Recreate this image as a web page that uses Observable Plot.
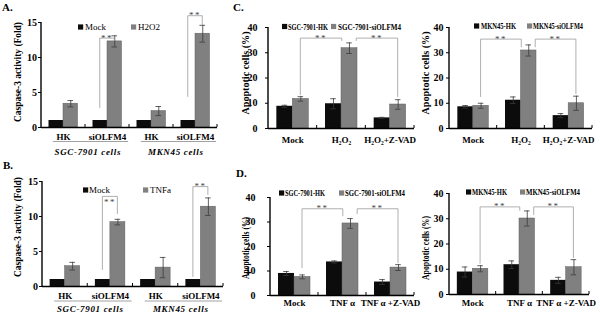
<!DOCTYPE html>
<html><head><meta charset="utf-8">
<script src="https://cdn.jsdelivr.net/npm/d3@7"></script>
<script src="https://cdn.jsdelivr.net/npm/@observablehq/plot@0.6"></script>
<style>
html,body{margin:0;padding:0;background:#fff;}
#root{position:relative;width:600px;height:313px;overflow:hidden;background:#fff;font-family:'Liberation Serif','Times New Roman',serif;}
#root svg{position:absolute;overflow:visible;}
.plab{position:absolute;font-weight:bold;font-size:11px;line-height:11px;}
</style></head><body><div id="root"></div>
<script>
// ---------- DATA ----------
// Panels A and B: caspase-3 activity (fold)
const groupsAB = ["SGC-HK", "SGC-siOLFM4", "MKN-HK", "MKN-siOLFM4"];
const tickLabelsAB = ["HK", "siOLFM4", "HK", "siOLFM4"];
const cellLabels = ["SGC-7901 cells", "MKN45 cells"];
const seriesA = ["Mock", "H2O2"];
const mockA = [1, 1, 1, 1];
const mockErrA = [0, 0, 0, 0];
const h2o2A = [3.4, 12.3, 2.35, 13.4];
const h2o2ErrA = [0.45, 0.8, 0.65, 1.2];
const seriesB = ["Mock", "TNFa"];
const mockB = [1, 1, 1, 1];
const mockErrB = [0, 0, 0, 0];
const tnfB = [2.9, 9.2, 2.7, 11.4];
const tnfErrB = [0.55, 0.4, 1.45, 1.25];

// Panels C and D: apoptotic cells (%)
const groupsC = ["Mock", "H₂O₂", "H₂O₂+Z-VAD"];
const groupsD = ["Mock", "TNF α", "TNF α +Z-VAD"];
const seriesCL = ["SGC-7901-HK", "SGC-7901-siOLFM4"];
const seriesCR = ["MKN45-HK", "MKN45-siOLFM4"];
const hkCL = [8.8, 9.8, 4.2];
const hkErrCL = [0.4, 2.0, 0.2];
const siCL = [11.7, 31.8, 9.5];
const siErrCL = [0.9, 2.1, 1.9];
const hkCR = [8.6, 11.2, 5.1];
const hkErrCR = [0.5, 1.3, 0.8];
const siCR = [9.0, 30.9, 10.0];
const siErrCR = [1.0, 2.2, 2.8];
const hkDL = [9.0, 13.7, 5.5];
const hkErrDL = [0.8, 0.4, 1.0];
const siDL = [7.6, 29.4, 11.4];
const siErrDL = [0.8, 2.0, 1.2];
const hkDR = [8.9, 11.8, 5.6];
const hkErrDR = [2.0, 1.5, 1.2];
const siDR = [10.2, 30.1, 10.8];
const siErrDR = [1.2, 3.0, 3.0];

// significance brackets (group index, series index, values in data units)
const bracketsA = [
  {g1: 1, s1: 0, y1: 2.7, g2: 1, s2: 1, y2: 12.3, top: 12.7},
  {g1: 3, s1: 0, y1: 4.3, g2: 3, s2: 1, y2: 14.6, top: 15.9}
];
const bracketsB = [
  {g1: 1, s1: 0, y1: 2.3, g2: 1, s2: 1, y2: 10.3, top: 12.8, below: true},
  {g1: 3, s1: 0, y1: 1.3, g2: 3, s2: 1, y2: 13.0, top: 14.2}
];
const bracketsCL = [
  {g1: 0, s1: 1, y1: 13.0, g2: 1, s2: 1, o2: -0.45, y2: 34.5, top: 35.6},
  {g1: 1, s1: 1, o1: 0.45, y1: 34.5, g2: 2, s2: 1, y2: 12.3, top: 35.6}
];
const bracketsCR = [
  {g1: 0, s1: 1, y1: 12.3, g2: 1, s2: 1, o2: -0.45, y2: 32.0, top: 35.2},
  {g1: 1, s1: 1, o1: 0.45, y1: 32.0, g2: 2, s2: 1, y2: 13.5, top: 35.2}
];
const bracketsDL = [
  {g1: 0, s1: 1, y1: 11.0, g2: 1, s2: 1, o2: -0.45, y2: 32.2, top: 35.2},
  {g1: 1, s1: 1, o1: 0.45, y1: 33.0, g2: 2, s2: 1, y2: 13.0, top: 35.2}
];
const bracketsDR = [
  {g1: 0, s1: 1, y1: 12.0, g2: 1, s2: 1, o2: -0.45, y2: 33.0, top: 34.5},
  {g1: 1, s1: 1, o1: 0.45, y1: 31.3, g2: 2, s2: 1, y2: 14.3, top: 34.5}
];

// ---------- DRAWING ----------
const FONT = "'Liberation Serif','Times New Roman',serif";
const root = document.getElementById("root");

function panel(c) {
  const n = c.groups.length;
  const bw = (c.width - c.ml - c.mr) / n;
  const half = bw / 2, W = c.barW;
  const rows = c.groups.map((g, i) => ({g, a: c.s1[i], ea: c.e1[i], b: c.s2[i], eb: c.e2[i]}));
  const fmt = new Map(c.groups.map((g, i) => [g, c.ticks[i]]));
  const errA = rows.filter(d => d.ea > 0), errB = rows.filter(d => d.eb > 0);
  const capIn = half - 2.8;
  const errStyle = {stroke: "#3a3a3a", strokeWidth: 0.8};
  const svg = Plot.plot({
    width: c.width, height: c.height,
    marginLeft: c.ml, marginRight: c.mr, marginTop: c.mt, marginBottom: c.mb,
    style: {fontFamily: FONT, fontSize: "9px", fontWeight: "bold", background: "transparent", overflow: "visible", color: "#000"},
    x: {domain: c.groups, padding: 0, round: false, tickSize: 0, tickPadding: c.xPad, tickFormat: d => fmt.get(d), label: null},
    y: {domain: [0, c.ymax], ticks: c.yCount, tickSize: 3, tickPadding: c.yPad, label: null},
    marks: [
      Plot.barY(rows, {x: "g", y: "a", fill: "#0c0c0c", insetLeft: half - W, insetRight: half}),
      Plot.barY(rows, {x: "g", y: "b", fill: "#808080", stroke: "#5e5e5e", strokeWidth: 0.5, insetLeft: half, insetRight: half - W}),
      Plot.ruleX(errA, {x: "g", y1: d => d.a - d.ea, y2: d => d.a + d.ea, dx: -W / 2, ...errStyle}),
      Plot.tickY(errA, {x: "g", y: d => d.a + d.ea, dx: -W / 2, insetLeft: capIn, insetRight: capIn, ...errStyle}),
      Plot.tickY(errA, {x: "g", y: d => d.a - d.ea, dx: -W / 2, insetLeft: capIn, insetRight: capIn, ...errStyle}),
      Plot.ruleX(errB, {x: "g", y1: d => d.b - d.eb, y2: d => d.b + d.eb, dx: W / 2, ...errStyle}),
      Plot.tickY(errB, {x: "g", y: d => d.b + d.eb, dx: W / 2, insetLeft: capIn, insetRight: capIn, ...errStyle}),
      Plot.tickY(errB, {x: "g", y: d => d.b - d.eb, dx: W / 2, insetLeft: capIn, insetRight: capIn, ...errStyle}),
      Plot.ruleY([0], {stroke: "#000", strokeWidth: 1.4})
    ]
  });
  svg.style.left = c.left + "px";
  svg.style.top = c.top + "px";
  svg.style.width = c.width + "px";
  svg.style.height = c.height + "px";
  svg.style.maxWidth = "none";
  root.appendChild(svg);

  const sx = svg.scale("x"), sy = svg.scale("y");
  const S = d3.select(svg);
  S.selectAll('g[aria-label="y-axis tick label"]').style("font-size", "10px");
  const band = g => sx.apply(c.groups[g]);
  const bx = (g, s, o = 0) => band(g) + half + (s ? W / 2 : -W / 2) + o * W;

  // y axis line
  S.append("line").attr("x1", c.ml).attr("x2", c.ml)
    .attr("y1", sy.apply(0) + 0.7).attr("y2", sy.apply(c.ymax))
    .attr("stroke", "#000").attr("stroke-width", 1.4);
  // category boundary ticks
  for (let i = 0; i < n; i++) {
    const x = band(i) + sx.bandwidth;
    S.append("line").attr("x1", x).attr("x2", x)
      .attr("y1", sy.apply(0)).attr("y2", sy.apply(0) - 3)
      .attr("stroke", "#000").attr("stroke-width", 1);
  }
  // brackets
  for (const b of c.brackets) {
    const x1 = bx(b.g1, b.s1, b.o1 || 0), x2 = bx(b.g2, b.s2, b.o2 || 0);
    const yt = sy.apply(b.top);
    S.append("path")
      .attr("d", `M${x1},${sy.apply(b.y1)}V${yt}H${x2}V${sy.apply(b.y2)}`)
      .attr("fill", "none").attr("stroke", "#9c9c9c").attr("stroke-width", 0.8);
    S.append("text").attr("x", (x1 + x2) / 2).attr("y", b.below ? yt + 9 : yt + 2.5)
      .attr("text-anchor", "middle").attr("fill", "#444")
      .style("font-size", "9px").style("font-weight", "normal").style("letter-spacing", "1.5px")
      .text("**");
  }
  // legend
  c.legend.forEach((it, i) => {
    const y = it.y - c.top;
    S.append("rect").attr("x", it.x - c.left).attr("y", y - 2.6).attr("width", 5.2).attr("height", 5.2)
      .attr("fill", i ? "#808080" : "#0c0c0c");
    const t = S.append("text").attr("x", it.tx - c.left).attr("y", y + 3)
      .attr("text-anchor", "start").attr("fill", "#000")
      .style("font-size", c.legendBold ? "8.5px" : "9px")
      .style("font-weight", c.legendBold ? "bold" : "normal")
      .text(c.series[i]);
    if (it.len) t.attr("textLength", it.len).attr("lengthAdjust", "spacingAndGlyphs");
  });
  // y title
  S.append("text")
    .attr("transform", `translate(${c.title.x - c.left},${c.title.y - c.top}) rotate(-90)`)
    .attr("text-anchor", "middle").attr("dy", "0.35em").attr("fill", "#000")
    .attr("textLength", c.title.len).attr("lengthAdjust", "spacingAndGlyphs")
    .style("font-size", "10px").style("font-weight", "bold")
    .text(c.title.text);
  // cell-line group labels
  if (c.cells) {
    c.cells.forEach((lab, k) => {
      const xa = band(2 * k) + bw * 0.27, xb = band(2 * k + 1) + bw * 0.98;
      S.append("line").attr("x1", xa).attr("x2", xb)
        .attr("y1", c.underY - c.top).attr("y2", c.underY - c.top)
        .attr("stroke", "#8a8a8a").attr("stroke-width", 0.8);
      S.append("text").attr("x", (xa + xb) / 2 - 3).attr("y", c.cellY - c.top)
        .attr("text-anchor", "middle").attr("fill", "#000")
        .attr("textLength", k ? 55 : 66).attr("lengthAdjust", "spacing")
        .style("font-size", "9px").style("font-weight", "bold").style("font-style", "italic")
        .text(lab);
    });
  }
}

panel({
  groups: groupsAB, ticks: tickLabelsAB, series: seriesA,
  s1: mockA, e1: mockErrA, s2: h2o2A, e2: h2o2ErrA,
  left: 0, top: 0, width: 222, height: 160, ml: 41, mr: 5, mt: 22, mb: 33,
  ymax: 15, yCount: 3, yPad: 1.5, xPad: 6.6, barW: 14.5,
  brackets: bracketsA,
  legend: [{x: 78, y: 27, tx: 85}, {x: 131, y: 27, tx: 138}], legendBold: false,
  title: {x: 17, y: 72, len: 100, text: "Caspase-3 activity (Fold)"},
  cells: cellLabels, underY: 141.5, cellY: 155
});
panel({
  groups: groupsAB, ticks: tickLabelsAB, series: seriesB,
  s1: mockB, e1: mockErrB, s2: tnfB, e2: tnfErrB,
  left: 0, top: 160, width: 228, height: 153, ml: 42, mr: 5, mt: 21, mb: 27,
  ymax: 15, yCount: 3, yPad: 1.5, xPad: 6.6, barW: 15,
  brackets: bracketsB,
  legend: [{x: 83, y: 190, tx: 89}, {x: 143, y: 190, tx: 150}], legendBold: false,
  title: {x: 17, y: 227, len: 100, text: "Caspase-3 activity (Fold)"},
  cells: cellLabels, underY: 301, cellY: 312
});
panel({
  groups: groupsC, ticks: groupsC, series: seriesCL,
  s1: hkCL, e1: hkErrCL, s2: siCL, e2: siErrCL,
  left: 222, top: 0, width: 196, height: 160, ml: 46, mr: 4, mt: 27, mb: 32,
  ymax: 40, yCount: 4, yPad: 8, xPad: 8.6, barW: 16,
  brackets: bracketsCL,
  legend: [{x: 282, y: 26.5, tx: 288, len: 40}, {x: 331, y: 26.5, tx: 338, len: 63}], legendBold: true,
  title: {x: 245, y: 73, len: 83, text: "Apoptotic cells (%)"}
});
panel({
  groups: groupsC, ticks: groupsC, series: seriesCR,
  s1: hkCR, e1: hkErrCR, s2: siCR, e2: siErrCR,
  left: 418, top: 0, width: 182, height: 160, ml: 31, mr: 8, mt: 27, mb: 32,
  ymax: 40, yCount: 4, yPad: 3, xPad: 8.6, barW: 15.5,
  brackets: bracketsCR,
  legend: [{x: 474, y: 26, tx: 481, len: 35}, {x: 527, y: 26, tx: 533, len: 50}], legendBold: true,
  title: {x: 425, y: 73, len: 83, text: "Apoptotic cells (%)"}
});
panel({
  groups: groupsD, ticks: groupsD, series: seriesCL,
  s1: hkDL, e1: hkErrDL, s2: siDL, e2: siErrDL,
  left: 222, top: 160, width: 196, height: 153, ml: 48, mr: 4, mt: 37, mb: 18,
  ymax: 40, yCount: 4, yPad: 12, xPad: 4.6, barW: 16,
  brackets: bracketsDL,
  legend: [{x: 279, y: 193, tx: 285, len: 40}, {x: 339, y: 193, tx: 345, len: 60}], legendBold: true,
  title: {x: 245, y: 248, len: 62, text: "Apoptotic cells (%)"}
});
panel({
  groups: groupsD, ticks: groupsD, series: seriesCR,
  s1: hkDR, e1: hkErrDR, s2: siDR, e2: siErrDR,
  left: 418, top: 160, width: 182, height: 153, ml: 31, mr: 11, mt: 33, mb: 19,
  ymax: 40, yCount: 4, yPad: 3, xPad: 5.6, barW: 15.5,
  brackets: bracketsDR,
  legend: [{x: 466, y: 192, tx: 472, len: 35}, {x: 520, y: 192, tx: 526, len: 54}], legendBold: true,
  title: {x: 425, y: 248, len: 64, text: "Apoptotic cells (%)"}
});

// panel letters
[["A.", 2, 2], ["B.", 3, 160], ["C.", 233, 2], ["D.", 236, 168]].forEach(([t, x, y]) => {
  const d = document.createElement("div");
  d.className = "plab"; d.textContent = t;
  d.style.left = x + "px"; d.style.top = y + "px";
  root.appendChild(d);
});
</script></body></html>
